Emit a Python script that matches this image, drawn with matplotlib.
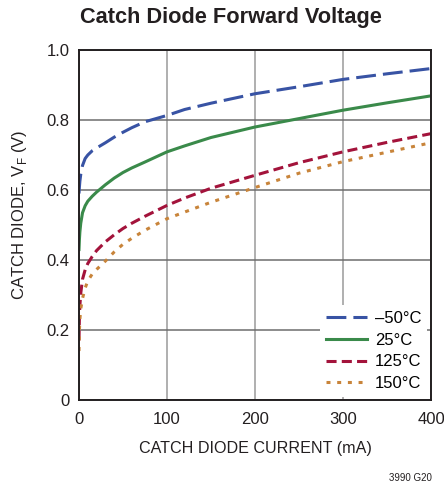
import matplotlib
matplotlib.use("Agg")
import matplotlib.pyplot as plt

plt.rcParams['font.family'] = ['Liberation Sans', 'DejaVu Sans']

current_ma = [0, 0.5, 1, 2, 4, 7, 10, 15, 20, 30, 40, 50, 60, 75, 100, 120, 150, 200, 250, 300, 350, 400]
v_m50 = [0.59, 0.61, 0.625, 0.645, 0.67, 0.69, 0.70, 0.712, 0.72, 0.735, 0.751, 0.765, 0.778, 0.795, 0.813,
         0.83, 0.848, 0.875, 0.895, 0.916, 0.932, 0.947]
v_25 = [0.43, 0.46, 0.48, 0.505, 0.535, 0.555, 0.568, 0.582, 0.594, 0.615, 0.634, 0.65, 0.663, 0.68, 0.709,
        0.726, 0.75, 0.78, 0.804, 0.828, 0.849, 0.869]
v_125 = [0.17, 0.24, 0.27, 0.305, 0.345, 0.372, 0.39, 0.41, 0.427, 0.452, 0.472, 0.49, 0.505, 0.525, 0.556,
         0.577, 0.605, 0.642, 0.678, 0.709, 0.736, 0.761]
v_150 = [0.14, 0.20, 0.23, 0.26, 0.29, 0.32, 0.34, 0.36, 0.373, 0.397, 0.423, 0.445, 0.462, 0.485, 0.518,
         0.537, 0.565, 0.607, 0.648, 0.681, 0.708, 0.735]
labels = ['\u201350\u00b0C', '25\u00b0C', '125\u00b0C', '150\u00b0C']
xticks = [0, 100, 200, 300, 400]
yticks = [0, 0.2, 0.4, 0.6, 0.8, 1.0]
ytick_labels = ['0', '0.2', '0.4', '0.6', '0.8', '1.0']

fig = plt.figure(figsize=(4.44, 4.87), dpi=100)
ax = fig.add_axes([79/444, 1 - 400/487, 352/444, 350/487])

lw = 2.2
ax.plot(current_ma, v_m50, color='#3853a4', lw=lw, dashes=(6.5, 2.3), label=labels[0])
ax.plot(current_ma, v_25, color='#3a8a4a', lw=lw, label=labels[1])
ax.plot(current_ma, v_125, color='#a3133b', lw=lw, dashes=(3.3, 1.7), label=labels[2])
ax.plot(current_ma, v_150, color='#c8843a', lw=lw, dashes=(1.3, 2.2), label=labels[3])

ax.set_xlim(0, 400)
ax.set_ylim(0, 1.0)
ax.set_xticks(xticks)
ax.set_yticks(yticks)
ax.set_yticklabels(ytick_labels)
ax.tick_params(length=0, labelsize=12, colors='#231f20')
ax.tick_params(axis='x', pad=9)
ax.tick_params(axis='y', pad=7)
ax.xaxis.grid(True, color='#9a9a9a', lw=1.1)
ax.yaxis.grid(True, color='#6d6d6d', lw=1.1)
ax.set_axisbelow(True)
for s in ax.spines.values():
    s.set_color('#231f20')
    s.set_linewidth(1.4)

ax.set_xlabel('CATCH DIODE CURRENT (mA)', fontsize=11.6, color='#231f20', labelpad=10)
ax.set_ylabel('CATCH DIODE, V$_\\mathregular{F}$ (V)', fontsize=12, color='#231f20')
ax.yaxis.set_label_coords(-0.142, 0.529)

leg = ax.legend(loc='lower right', bbox_to_anchor=(0.989, 0.009), frameon=True, fontsize=12,
                handlelength=2.5, handletextpad=0.45, labelspacing=0.4, borderpad=0.35,
                borderaxespad=0.0)
leg.get_frame().set_facecolor('white')
leg.get_frame().set_edgecolor('none')
leg.get_frame().set_alpha(1)
leg.get_frame().set_boxstyle('square', pad=0)

fig.text(80/444, 1 - 18/487, 'Catch Diode Forward Voltage', fontsize=15.7, fontweight='bold',
         color='#231f20', va='center', ha='left')
fig.text(432/444, 1 - 478/487, '3990 G20', fontsize=7, color='#231f20', va='center', ha='right')

fig.savefig('out.png', dpi=100)
